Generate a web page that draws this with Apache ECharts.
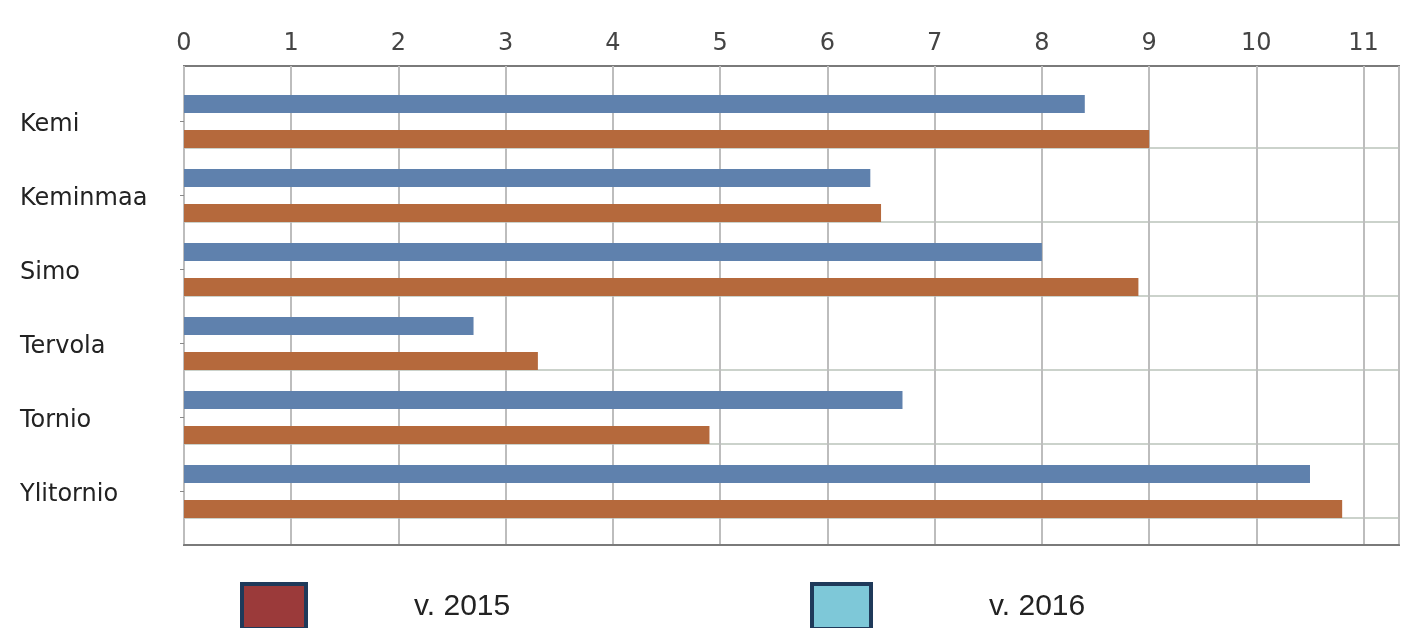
<!DOCTYPE html>
<html>
<head>
<meta charset="utf-8">
<script src="https://cdn.jsdelivr.net/npm/echarts@6/dist/echarts.min.js"></script>
<style>html,body{margin:0;padding:0;background:#fff;}#c{width:1409px;height:628px;}</style>
</head>
<body>
<div id="c"></div>
<script>
const categories = ['Kemi', 'Keminmaa', 'Simo', 'Tervola', 'Tornio', 'Ylitornio'];
const values2015 = [8.4, 6.4, 8.0, 2.7, 6.7, 10.5];
const values2016 = [9.0, 6.5, 8.9, 3.3, 4.9, 10.8];
const seriesNames = ['v. 2015', 'v. 2016'];

const chart = echarts.init(document.getElementById('c'));
const font = 'DejaVu Sans';
chart.setOption({
  backgroundColor: '#fff',
  animation: false,
  grid: [
    {left: 184, right: 10, top: 66, bottom: 83, show: true, borderColor: '#7a7a7a', borderWidth: 2, backgroundColor: 'transparent'},
    {left: 184, right: 10, top: 74, height: 444},
    {left: 184, right: 10, top: 84.5, height: 444}
  ],
  xAxis: [
    {gridIndex: 0, type: 'value', position: 'top', min: 0, max: 11.33, interval: 1,
     axisLine: {show: true, lineStyle: {color: '#7a7a7a', width: 2}},
     axisTick: {show: false},
     axisLabel: {color: '#444', fontFamily: font, fontSize: 24, margin: 10,
       formatter: v => (Math.abs(v - Math.round(v)) < 1e-6 ? String(Math.round(v)) : '')},
     splitLine: {show: true, lineStyle: {color: '#bdbdbd', width: 2}}},
    {gridIndex: 1, type: 'value', min: 0, max: 11.33, show: false},
    {gridIndex: 2, type: 'value', min: 0, max: 11.33, show: false}
  ],
  yAxis: [
    {gridIndex: 0, type: 'value', show: false},
    {gridIndex: 1, type: 'category', data: categories, inverse: true,
     axisLine: {show: false}, axisTick: {show: false}, axisLabel: {show: false},
     splitLine: {show: true, interval: (i) => i > 0, lineStyle: {color: '#cbd2cb', width: 2}}},
    {gridIndex: 2, type: 'category', data: categories, inverse: true,
     axisLine: {show: false},
     axisTick: {show: true, alignWithLabel: true, length: 4, lineStyle: {color: '#888'}},
     axisLabel: {align: 'left', margin: 164, color: '#222', fontFamily: font, fontSize: 24,
       verticalAlign: 'top', lineHeight: 6},
     splitLine: {show: false}}
  ],
  legend: [
    {left: 235, top: 577, itemWidth: 64, itemHeight: 45, icon: 'rect',
     data: [{name: seriesNames[0], itemStyle: {color: '#9b3a3a', borderColor: '#1f3a5a', borderWidth: 4}}],
     textStyle: {fontFamily: 'Liberation Sans', fontSize: 30, color: '#222', padding: [0, 0, 0, 103]}},
    {left: 805, top: 577, itemWidth: 59, itemHeight: 45, icon: 'rect',
     data: [{name: seriesNames[1], itemStyle: {color: '#7ec8d8', borderColor: '#1f3a5a', borderWidth: 4}}],
     textStyle: {fontFamily: 'Liberation Sans', fontSize: 30, color: '#222', padding: [0, 0, 0, 113]}}
  ],
  series: [
    {name: seriesNames[0], type: 'bar', xAxisIndex: 2, yAxisIndex: 2, data: values2015,
     barWidth: 18, barGap: '94%', itemStyle: {color: '#5f81ad'}},
    {name: seriesNames[1], type: 'bar', xAxisIndex: 2, yAxisIndex: 2, data: values2016,
     barWidth: 18, barGap: '94%', itemStyle: {color: '#b5693c'}}
  ]
});
</script>
</body>
</html>
